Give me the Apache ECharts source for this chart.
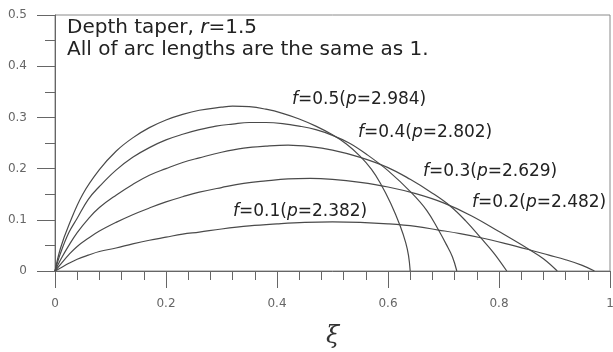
<!DOCTYPE html>
<html>
<head>
<meta charset="utf-8">
<script src="https://cdn.jsdelivr.net/npm/echarts@6/dist/echarts.min.js"></script>
<style>
  html, body { margin: 0; padding: 0; background: #fff; }
  #chart { width: 613px; height: 352px; }
</style>
</head>
<body>
<div id="chart"></div>
<script>
// arc shapes: [xi, depth]
const curveF05 = [[0,0],[0.01,0.045],[0.025,0.09],[0.05,0.15],[0.08,0.198],[0.11,0.234],[0.14,0.26],[0.17,0.28],[0.2,0.295],[0.23,0.306],[0.26,0.314],[0.3,0.32],[0.32,0.322],[0.35,0.321],[0.38,0.316],[0.41,0.308],[0.44,0.297],[0.47,0.283],[0.5,0.266],[0.525,0.248],[0.55,0.224],[0.57,0.199],[0.586,0.172],[0.605,0.132],[0.622,0.088],[0.632,0.055],[0.637,0.03],[0.64,0]];
const curveF04 = [[0,0],[0.01,0.035],[0.025,0.075],[0.04,0.103],[0.06,0.14],[0.08,0.165],[0.11,0.197],[0.14,0.222],[0.17,0.241],[0.2,0.256],[0.23,0.267],[0.26,0.276],[0.29,0.283],[0.32,0.287],[0.35,0.29],[0.38,0.29],[0.41,0.288],[0.44,0.283],[0.47,0.276],[0.5,0.265],[0.53,0.25],[0.56,0.229],[0.6,0.196],[0.643,0.152],[0.67,0.118],[0.691,0.08],[0.705,0.052],[0.716,0.028],[0.724,0]];
const curveF03 = [[0,0],[0.01,0.022],[0.025,0.05],[0.04,0.075],[0.06,0.102],[0.08,0.124],[0.11,0.148],[0.14,0.169],[0.17,0.187],[0.2,0.2],[0.23,0.212],[0.26,0.221],[0.3,0.232],[0.34,0.24],[0.38,0.244],[0.42,0.246],[0.46,0.243],[0.5,0.236],[0.55,0.222],[0.6,0.202],[0.64,0.179],[0.68,0.152],[0.712,0.127],[0.74,0.098],[0.767,0.065],[0.79,0.036],[0.814,0]];
const curveF02 = [[0,0],[0.01,0.013],[0.025,0.032],[0.04,0.048],[0.06,0.064],[0.08,0.078],[0.11,0.095],[0.14,0.11],[0.17,0.123],[0.2,0.135],[0.23,0.145],[0.26,0.154],[0.3,0.163],[0.34,0.171],[0.38,0.176],[0.42,0.18],[0.46,0.181],[0.5,0.179],[0.55,0.173],[0.6,0.164],[0.65,0.151],[0.7,0.133],[0.75,0.108],[0.8,0.077],[0.853,0.043],[0.88,0.024],[0.905,0]];
const curveF01 = [[0,0],[0.01,0.006],[0.025,0.015],[0.04,0.023],[0.06,0.031],[0.08,0.038],[0.11,0.045],[0.14,0.053],[0.17,0.06],[0.2,0.066],[0.23,0.072],[0.26,0.076],[0.3,0.082],[0.35,0.088],[0.4,0.092],[0.45,0.095],[0.5,0.096],[0.55,0.095],[0.6,0.092],[0.65,0.087],[0.691,0.08],[0.73,0.073],[0.767,0.065],[0.81,0.054],[0.853,0.042],[0.89,0.031],[0.92,0.022],[0.95,0.011],[0.972,0]];

const fValues = ['0.5', '0.4', '0.3', '0.2', '0.1'];
const pValues = ['2.984', '2.802', '2.629', '2.482', '2.382'];
const titleLines = ['Depth taper, ', '1.5', 'All of arc lengths are the same as 1.'];

const myChart = echarts.init(document.getElementById('chart'));

const FONT = '"DejaVu Sans", sans-serif';
const curves = [curveF05, curveF04, curveF03, curveF02, curveF01];
// label spots (left, middle) in px
const labelPos = [[292, 100], [358, 133], [423, 172], [472, 203], [233, 212]];

const labelText = (fv, pv) => ({
  type: 'text',
  style: {
    text: `{i|f}=${fv}({i|p}=${pv})`,
    fontFamily: FONT,
    fontSize: 17,
    fill: '#222',
    verticalAlign: 'middle',
    rich: {
      i: { fontStyle: 'italic', fontFamily: FONT, fontSize: 17, fill: '#222' }
    }
  }
});

const graphic = fValues.map((fv, i) => Object.assign(labelText(fv, pValues[i]), {
  x: labelPos[i][0], y: labelPos[i][1]
}));

graphic.push({
  type: 'text',
  x: 67, y: 17,
  style: {
    text: `${titleLines[0]}{i|r}=${titleLines[1]}\n${titleLines[2]}`,
    fontFamily: FONT,
    fontSize: 20,
    lineHeight: 22,
    fill: '#222',
    verticalAlign: 'top',
    rich: {
      i: { fontStyle: 'italic', fontFamily: FONT, fontSize: 20, lineHeight: 22, fill: '#222' }
    }
  }
});

const option = {
  animation: false,
  backgroundColor: '#fff',
  grid: {
    left: 55, right: 3, top: 15, bottom: 81,
    outerBoundsMode: 'none',
    show: true,
    borderColor: '#8a8a8a',
    borderWidth: 1
  },
  xAxis: {
    type: 'value',
    min: 0, max: 1, interval: 0.2,
    name: 'ξ',
    nameLocation: 'middle',
    nameGap: 54,
    nameTextStyle: { fontFamily: '"DejaVu Serif", serif', fontStyle: 'italic', fontSize: 24, color: '#333' },
    axisLine: { lineStyle: { color: '#666', width: 1 } },
    axisTick: { show: true, length: 17, lineStyle: { color: '#666' } },
    minorTick: { show: true, splitNumber: 5, length: 9, lineStyle: { color: '#666' } },
    splitLine: { show: false },
    axisLabel: { color: '#666', fontSize: 12, fontFamily: FONT, margin: 27, showMaxLabel: true }
  },
  yAxis: {
    type: 'value',
    min: 0, max: 0.5, interval: 0.1,
    axisLine: { show: true, lineStyle: { color: '#666', width: 1 } },
    axisTick: { show: true, length: 18, lineStyle: { color: '#666' } },
    minorTick: { show: true, splitNumber: 2, length: 10, lineStyle: { color: '#666' } },
    splitLine: { show: false },
    axisLabel: { color: '#666', fontSize: 12, fontFamily: FONT, margin: 28 }
  },
  series: curves.map((c, i) => ({
    name: 'f=' + fValues[i],
    type: 'line',
    data: c,
    smooth: 0.4,
    showSymbol: false,
    lineStyle: { color: '#4a4a4a', width: 1.2 }
  })),
  graphic
};

myChart.setOption(option);
</script>
</body>
</html>
